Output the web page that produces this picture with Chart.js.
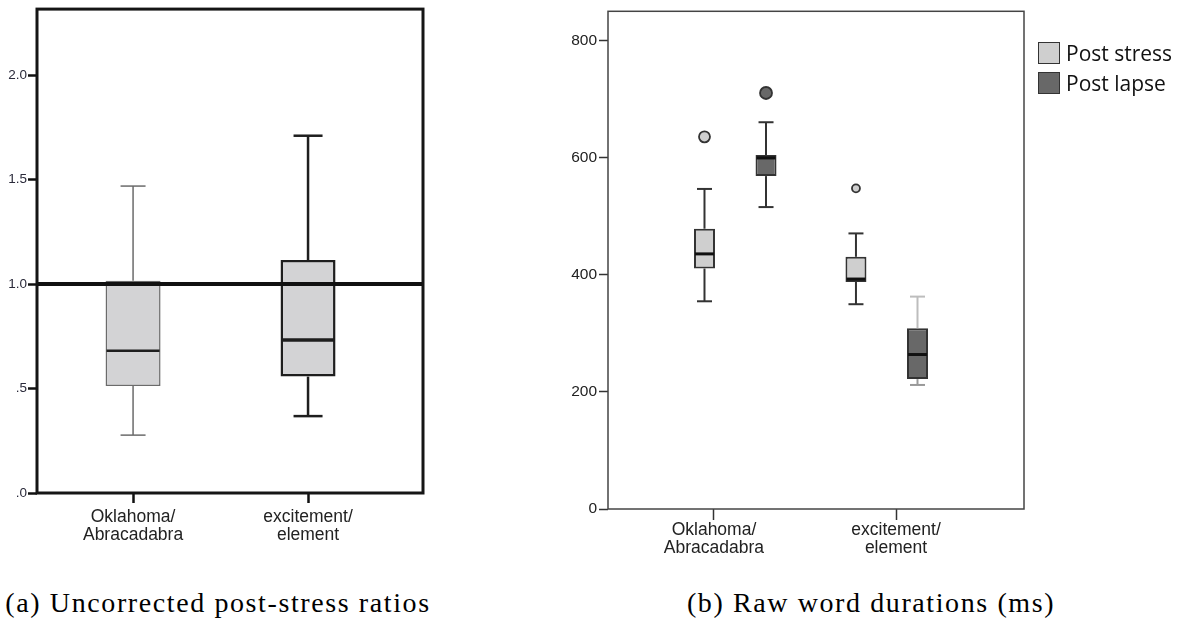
<!DOCTYPE html>
<html>
<head>
<meta charset="utf-8">
<script src="https://cdn.jsdelivr.net/npm/chart.js@4.4.1/dist/chart.umd.min.js"></script>
<style>
html,body{margin:0;padding:0;background:#fff;width:1181px;height:623px;overflow:hidden;position:relative;}
#chartA{position:absolute;left:0;top:0;}
#chartB{position:absolute;left:540px;top:0;}
.caption{position:absolute;top:587px;height:32px;line-height:32px;font-family:'Liberation Serif','Times New Roman',serif;font-size:28px;letter-spacing:1.6px;white-space:nowrap;color:#000;transform:translateX(-50%);}
#legendB{position:absolute;left:1038px;top:42px;font-family:'Open Sans',sans-serif;font-size:21px;color:#111;}
.lg-item{display:flex;align-items:center;height:22px;margin-bottom:8px;white-space:nowrap;}
.lg-sw{width:22px;height:22px;box-sizing:border-box;border:1.5px solid #333;margin-right:6px;flex:none;}
</style>
</head>
<body>
<canvas id="chartA" width="450" height="560"></canvas>
<canvas id="chartB" width="641" height="570"></canvas>
<div id="legendB"></div>
<div class="caption" style="left:218px">(a) Uncorrected post-stress ratios</div>
<div class="caption" style="left:871px">(b) Raw word durations (ms)</div>
<script>
// ---------------- data ----------------
const categories = [['Oklahoma/', 'Abracadabra'], ['excitement/', 'element']];

// (a) uncorrected post-stress ratios
const ratioLow    = [0.277, 0.368];
const ratioQ1     = [0.512, 0.557];
const ratioMedian = [0.681, 0.732];
const ratioQ3     = [1.016, 1.115];
const ratioHigh   = [1.469, 1.710];
const ratioReference = 1.0;
const ratioTicks = [0, 0.5, 1.0, 1.5, 2.0];
const ratioTickLabels = ['.0', '.5', '1.0', '1.5', '2.0'];

// (b) raw word durations (ms)
const seriesNames = ['Post stress', 'Post lapse'];
const stressLow      = [355, 350];
const stressQ1       = [411, 388];
const stressMedian   = [436, 393];
const stressQ3       = [479, 431];
const stressHigh     = [547, 471];
const stressOutliers = [636, 548];
const lapseLow       = [516, 212];
const lapseQ1        = [569, 222];
const lapseMedian    = [600, 264];
const lapseQ3        = [605, 309];
const lapseHigh      = [661, 363];
const lapseOutliers  = [711, null];
const durationTicks = [0, 200, 400, 600, 800];
const durationTickLabels = ['0', '200', '400', '600', '800'];

// ---------------- layout / style ----------------
const FONT = "'Liberation Sans', Arial, sans-serif";
const A_X = {min: -0.549, max: 1.657};
const A_YMAX = 2.316;
const B_X = {min: -0.582, max: 1.703};
const B_YMAX = 850.6;
const B_START = -0.052, B_STEP = 0.832, B_DODGE = 0.338;
const boxXB = (cat, s) => B_START + B_STEP * cat + B_DODGE * s;
const seriesFill = ['#cfcfcf', '#686868'];
const outlierRadius = [[5.5, 4], [6, 6]];

function seg(ctx, x1, y1, x2, y2) {
  ctx.beginPath(); ctx.moveTo(x1, y1); ctx.lineTo(x2, y2); ctx.stroke();
}
const pick = (v, i) => Array.isArray(v) ? v[i] : v;

// whiskers + medians for floating-bar boxes
const boxPlugin = {
  id: 'boxWhiskers',
  afterDatasetsDraw(chart) {
    const ctx = chart.ctx, ys = chart.scales.y;
    ctx.save();
    ctx.lineCap = 'butt';
    chart.data.datasets.forEach((ds, di) => {
      const b = ds.box;
      if (!b) return;
      chart.getDatasetMeta(di).data.forEach((bar, i) => {
        const x = bar.x, half = bar.width / 2;
        const top = Math.min(bar.y, bar.base), bottom = Math.max(bar.y, bar.base);
        const yHi = ys.getPixelForValue(b.high[i]);
        const yLo = ys.getPixelForValue(b.low[i]);
        const cap = pick(b.cap, i) / 2;
        ctx.lineWidth = pick(b.whiskerWidth, i);
        ctx.strokeStyle = pick(b.upperColor, i);
        seg(ctx, x, top, x, yHi);
        seg(ctx, x - cap, yHi, x + cap, yHi);
        ctx.strokeStyle = pick(b.lowerColor, i);
        seg(ctx, x, bottom, x, yLo);
        seg(ctx, x - cap, yLo, x + cap, yLo);
        const yMed = ys.getPixelForValue(b.median[i]);
        ctx.lineWidth = pick(b.medianWidth, i);
        ctx.strokeStyle = pick(b.medianColor, i);
        seg(ctx, x - half + 1, yMed, x + half - 1, yMed);
      });
    });
    ctx.restore();
  }
};

// reference line + frame
const framePlugin = {
  id: 'frame',
  afterDraw(chart, args, opts) {
    const ctx = chart.ctx, a = chart.chartArea;
    ctx.save();
    if (opts.reference !== undefined) {
      const yy = chart.scales.y.getPixelForValue(opts.reference);
      ctx.strokeStyle = opts.refColor; ctx.lineWidth = opts.refWidth;
      seg(ctx, a.left, yy, a.right, yy);
    }
    ctx.strokeStyle = opts.color; ctx.lineWidth = opts.width;
    ctx.strokeRect(a.left, a.top, a.right - a.left, a.bottom - a.top);
    ctx.restore();
  }
};

function xAxis(range, cats, tickLen, tickWidth, tickColor, pad, lh, height) {
  return {
    type: 'linear', min: range.min, max: range.max, offset: false,
    afterBuildTicks: s => { s.ticks = cats.map((c, i) => ({value: i})); },
    afterFit: s => { s.height = height; },
    ticks: { callback: (v, i) => cats[i], font: {family: FONT, size: 17.5, lineHeight: lh},
             color: '#222', padding: pad, maxRotation: 0, autoSkip: false },
    grid: { offset: false, drawOnChartArea: false, drawTicks: true, tickLength: tickLen, tickWidth: tickWidth, tickColor: tickColor },
    border: { display: false }
  };
}
function yAxis(max, vals, labels, width, fontSize, color, pad, tickLen, tickWidth, tickColor) {
  return {
    type: 'linear', min: 0, max: max,
    afterBuildTicks: s => { s.ticks = vals.map(v => ({value: v})); },
    afterFit: s => { s.width = width; },
    ticks: { callback: (v, i) => labels[i], font: {family: FONT, size: fontSize}, color: color, padding: pad, autoSkip: false },
    grid: { drawOnChartArea: false, drawTicks: true, tickLength: tickLen, tickWidth: tickWidth, tickColor: tickColor },
    border: { display: false }
  };
}

// ---------------- chart (a) ----------------
new Chart(document.getElementById('chartA'), {
  type: 'bar',
  data: {
    datasets: [{
      label: 'Uncorrected post-stress ratio',
      data: categories.map((c, i) => ({x: i, y: [ratioQ1[i], ratioQ3[i]]})),
      backgroundColor: '#d3d3d5',
      borderColor: ['#6b6b6b', '#1e1e1e'],
      borderWidth: [1.5, 2.5],
      borderSkipped: false,
      grouped: false,
      maxBarThickness: 55,
      box: { low: ratioLow, median: ratioMedian, high: ratioHigh,
             upperColor: ['#6b6b6b', '#1e1e1e'], lowerColor: ['#6b6b6b', '#1e1e1e'],
             whiskerWidth: [1.5, 2.5], medianColor: '#1e1e1e', medianWidth: [2.5, 3.5], cap: [25, 29] }
    }]
  },
  options: {
    responsive: false, animation: false, devicePixelRatio: 1,
    layout: { padding: {left: 0, top: 9, right: 27, bottom: 7} },
    plugins: { legend: {display: false}, tooltip: {enabled: false},
               frame: { color: '#151515', width: 3, reference: ratioReference, refColor: '#111', refWidth: 4 } },
    scales: {
      x: xAxis(A_X, categories, 10, 2.5, '#111', 5.5, 1, 60),
      y: yAxis(A_YMAX, ratioTicks, ratioTickLabels, 37, 13.5, '#2a2a3a', 1, 9, 2.5, '#111')
    }
  },
  plugins: [boxPlugin, framePlugin]
});

// ---------------- chart (b) ----------------
const seriesStats = [
  {low: stressLow, q1: stressQ1, median: stressMedian, q3: stressQ3, high: stressHigh, out: stressOutliers},
  {low: lapseLow, q1: lapseQ1, median: lapseMedian, q3: lapseQ3, high: lapseHigh, out: lapseOutliers}
];
const boxDatasets = seriesStats.map((st, s) => ({
  type: 'bar',
  label: seriesNames[s],
  data: categories.map((c, i) => ({x: boxXB(i, s), y: [st.q1[i], st.q3[i]]})),
  backgroundColor: seriesFill[s],
  borderColor: '#333',
  borderWidth: 2,
  borderSkipped: false,
  grouped: false,
  maxBarThickness: 21,
  box: { low: st.low, median: st.median, high: st.high,
         upperColor: s === 1 ? ['#333', '#bdbdbd'] : '#333', lowerColor: s === 1 ? ['#333', '#999'] : '#333',
         whiskerWidth: 2, medianColor: '#111', medianWidth: 3, cap: 15 }
}));
const outlierDatasets = seriesStats.map((st, s) => ({
  type: 'scatter',
  label: seriesNames[s] + ' (outliers)',
  data: st.out.map((v, i) => v === null ? null : {x: boxXB(i, s), y: v, cat: i}).filter(p => p),
  pointRadius: ctx => outlierRadius[s][ctx.raw ? ctx.raw.cat : 0],
  pointBackgroundColor: seriesFill[s],
  pointBorderColor: '#333',
  pointBorderWidth: 1.8,
  showLine: false
}));

const chartB = new Chart(document.getElementById('chartB'), {
  type: 'bar',
  data: { datasets: [...boxDatasets, ...outlierDatasets] },
  options: {
    responsive: false, animation: false, devicePixelRatio: 1,
    layout: { padding: {left: 0, top: 5, right: 157, bottom: 1} },
    plugins: { legend: {display: false}, tooltip: {enabled: false},
               frame: { color: '#444', width: 1.5 } },
    scales: {
      x: xAxis(B_X, categories, 11, 1.5, '#333', 1, 18 / 17.5, 60),
      y: yAxis(B_YMAX, durationTicks, durationTickLabels, 68, 15.5, '#222', 2, 9, 1.5, '#333')
    }
  },
  plugins: [boxPlugin, framePlugin]
});

// HTML legend built from the chart's box datasets
const lg = document.getElementById('legendB');
chartB.data.datasets.filter(d => d.type === 'bar').forEach(d => {
  const item = document.createElement('div'); item.className = 'lg-item';
  const sw = document.createElement('span'); sw.className = 'lg-sw'; sw.style.background = d.backgroundColor;
  const tx = document.createElement('span'); tx.textContent = d.label;
  item.appendChild(sw); item.appendChild(tx); lg.appendChild(item);
});
</script>
</body>
</html>
